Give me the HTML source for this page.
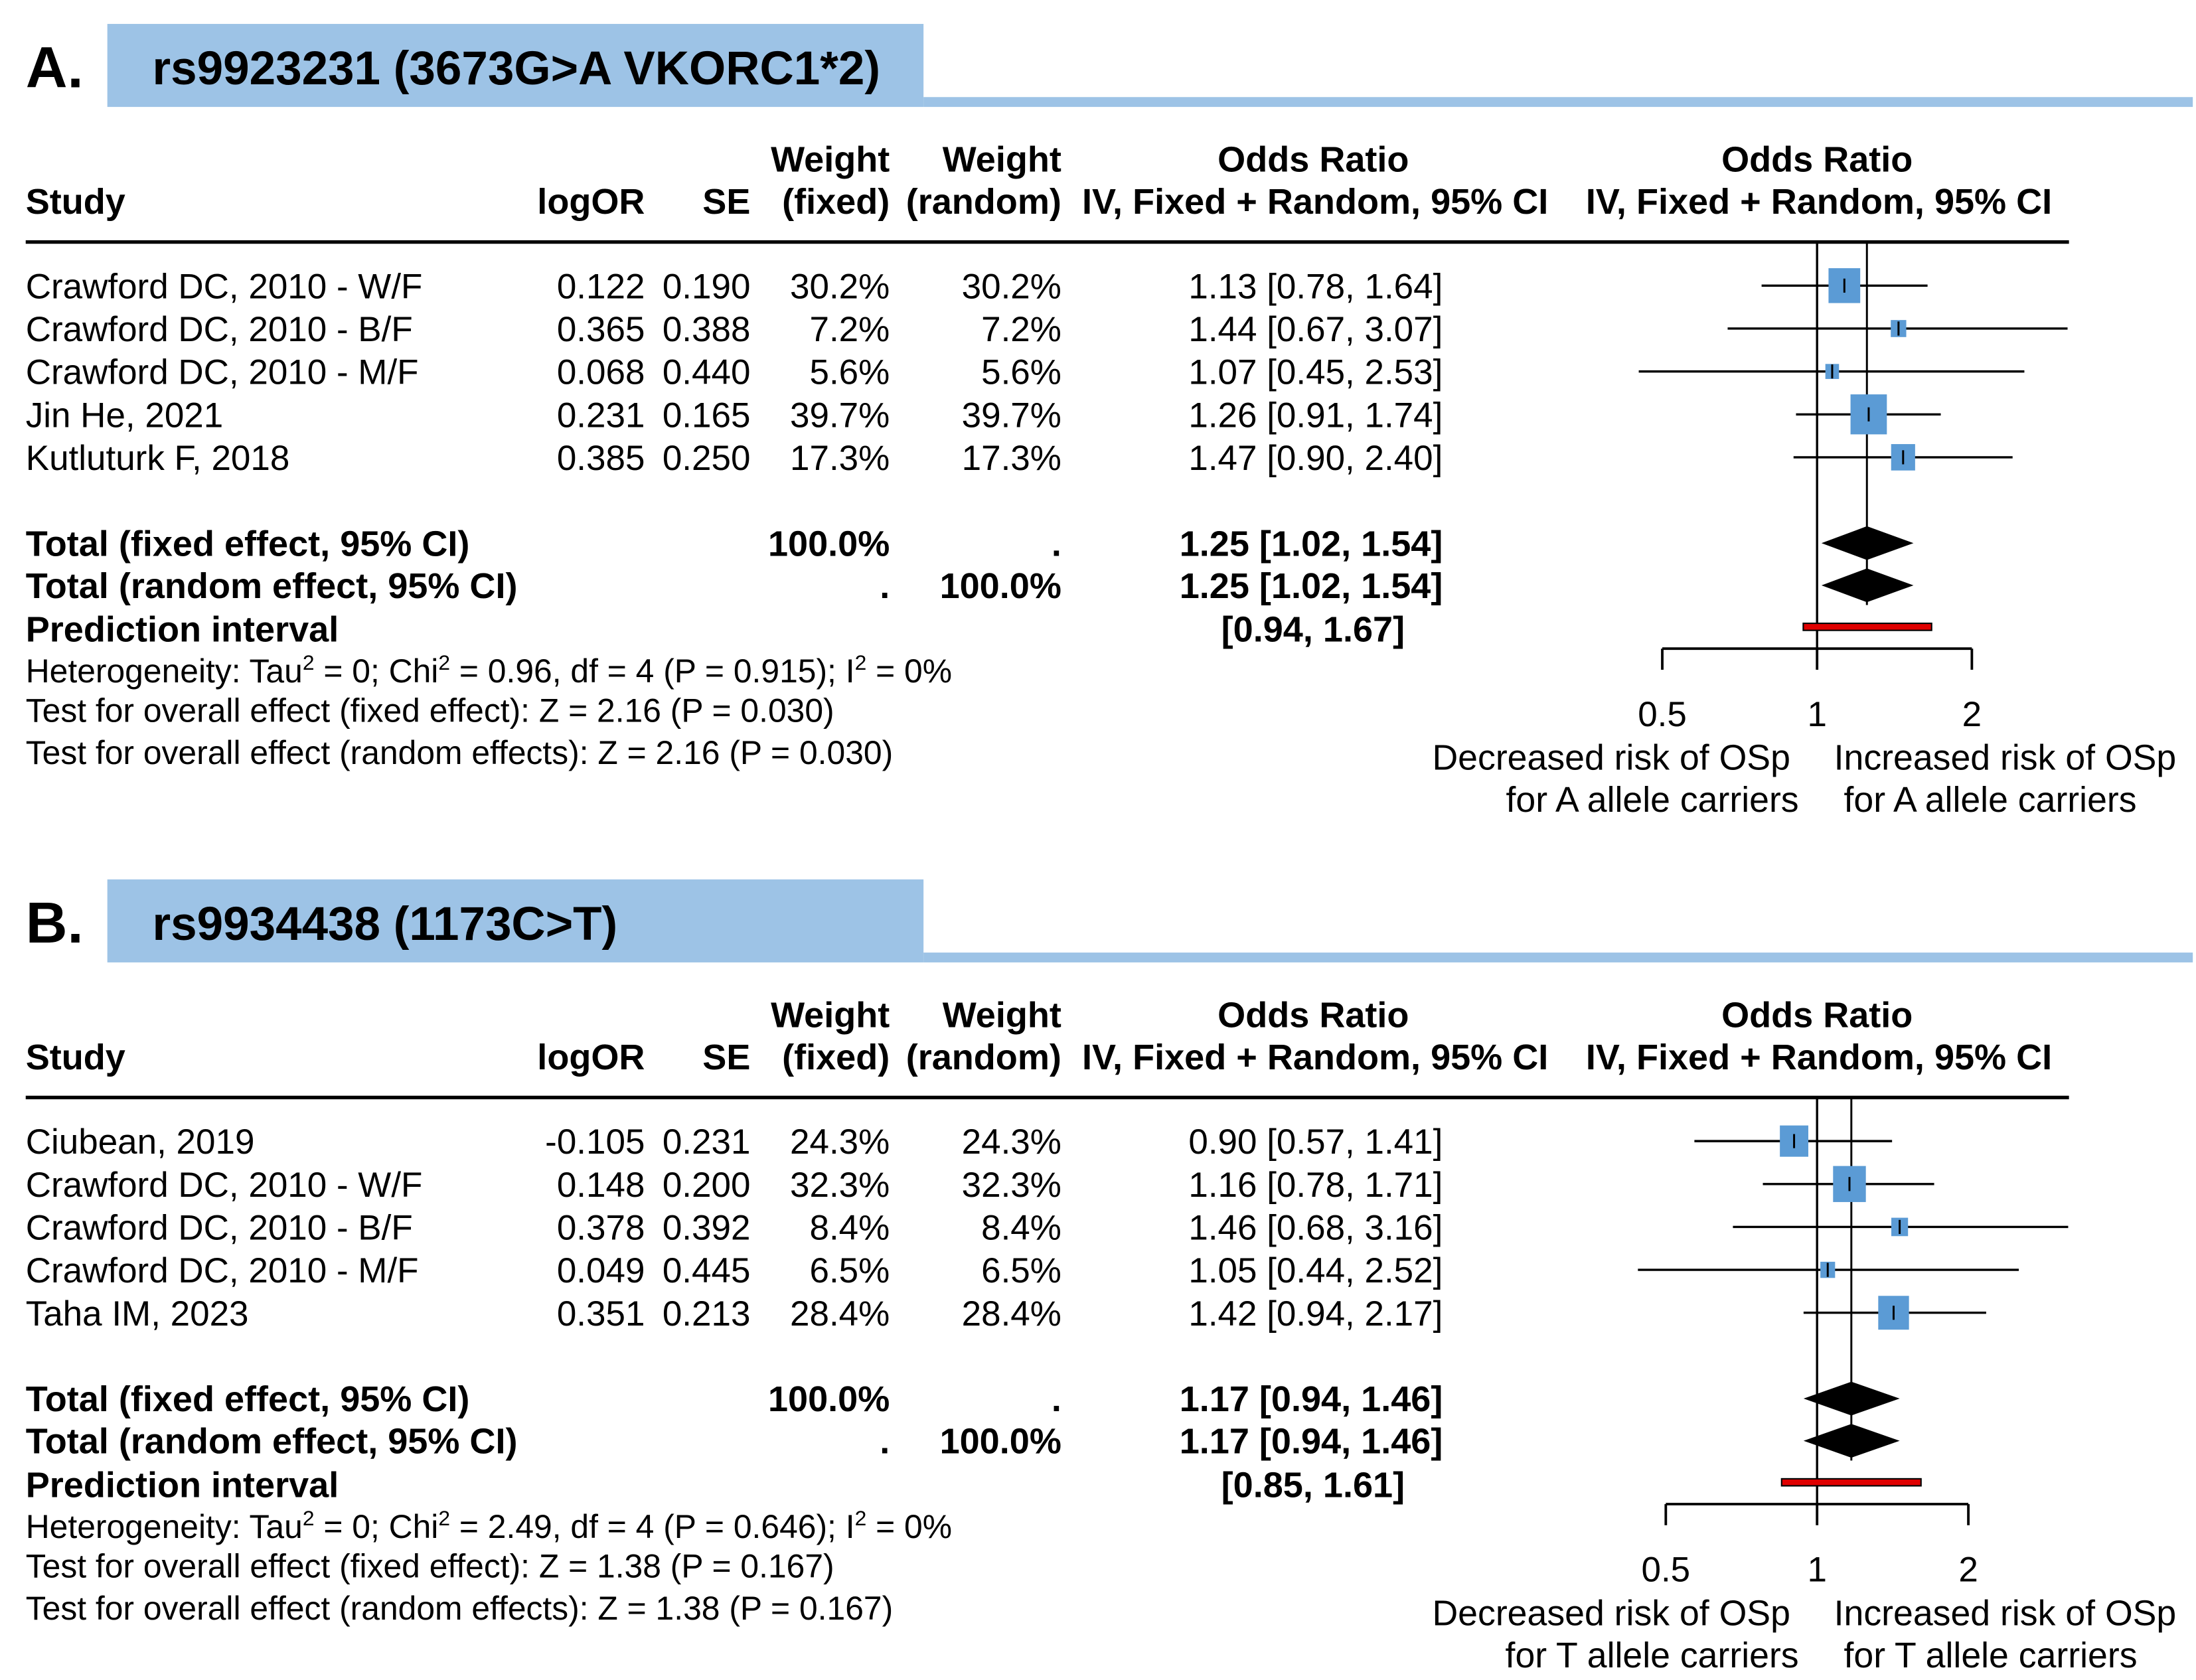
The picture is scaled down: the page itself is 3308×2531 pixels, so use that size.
<!DOCTYPE html>
<html><head><meta charset="utf-8"><style>
html,body{margin:0;padding:0;background:#fff;}
svg{display:block;}
text{font-family:"Liberation Sans",Arial,sans-serif;fill:#000;}
.b{font-weight:bold;}
</style></head><body>
<svg id="fig" width="3308" height="2531" viewBox="0 0 1560 1194" xmlns="http://www.w3.org/2000/svg"></svg>
<script>
// ---- Panel A data ----
const studiesA = ["Crawford DC, 2010 - W/F","Crawford DC, 2010 - B/F","Crawford DC, 2010 - M/F","Jin He, 2021","Kutluturk F, 2018"];
const logOrA = ["0.122","0.365","0.068","0.231","0.385"];
const seA = ["0.190","0.388","0.440","0.165","0.250"];
const weightA = [30.2,7.2,5.6,39.7,17.3];
const orA = [1.13,1.44,1.07,1.26,1.47];
const lowA = [0.78,0.67,0.45,0.91,0.90];
const highA = [1.64,3.07,2.53,1.74,2.40];
const pooledA = [1.25,1.02,1.54];
const predA = [0.94,1.67];
const statsA = ["0.96","4","0.915","2.16","0.030"];
// ---- Panel B data ----
const studiesB = ["Ciubean, 2019","Crawford DC, 2010 - W/F","Crawford DC, 2010 - B/F","Crawford DC, 2010 - M/F","Taha IM, 2023"];
const logOrB = ["-0.105","0.148","0.378","0.049","0.351"];
const seB = ["0.231","0.200","0.392","0.445","0.213"];
const weightB = [24.3,32.3,8.4,6.5,28.4];
const orB = [0.90,1.16,1.46,1.05,1.42];
const lowB = [0.57,0.78,0.68,0.44,0.94];
const highB = [1.41,1.71,3.16,2.52,2.17];
const pooledB = [1.17,0.94,1.46];
const predB = [0.85,1.61];
const statsB = ["2.49","4","0.646","1.38","0.167"];
const tickVals = [0.5,1,2];

const NS="http://www.w3.org/2000/svg";
const svg=document.getElementById('fig');
function el(tag,attrs,parent,txt){const e=document.createElementNS(NS,tag);for(const k in attrs)e.setAttribute(k,attrs[k]);if(txt!==undefined)e.textContent=txt;(parent||svg).appendChild(e);return e;}
function f2(v){return v.toFixed(2);}

function panel(oy,letter,title,studies,lo,se,w,or,low,high,pooled,pred,stats,scale,allele,key){
  const g=el('g',{transform:'translate(0,'+oy+')'});
  
  
  const x=v=>1291+scale*Math.log2(v);
  let t;
  t=el('text',{x:18,y:62,'font-size':41,class:'b'},g,letter);
  
  let r=el('rect',{x:656,y:69,width:902,height:7,fill:'#9DC3E6'},g);
  
  r=el('rect',{x:76,y:17,width:580,height:59,fill:'#9DC3E6'},g);
  
  t=el('text',{x:108,y:60,'font-size':33.5,class:'b'},g,title);
  
  const H=[["Study",18,152,'start'],["logOR",458,152,'end'],["SE",533,152,'end'],["Weight",632,122,'end'],["(fixed)",632,152,'end'],["Weight",754,122,'end'],["(random)",754,152,'end'],["Odds Ratio",933,122,'middle'],["IV, Fixed + Random, 95% CI",1100,152,'end'],["Odds Ratio",1291,122,'middle'],["IV, Fixed + Random, 95% CI",1458,152,'end']];
  H.forEach(h=>{const e=el('text',{x:h[1],y:h[2],'font-size':25.5,class:'b','text-anchor':h[3]},g,h[0]);
    });
  let l=el('line',{x1:18,x2:1470,y1:172,y2:172,stroke:'#000','stroke-width':2.5},g);
  
  l=el('line',{x1:x(1),x2:x(1),y1:172,y2:461,stroke:'#000','stroke-width':1.6},g);
  
  l=el('line',{x1:x(pooled[0]),x2:x(pooled[0]),y1:172,y2:430,stroke:'#000','stroke-width':1.4},g);
  
  studies.forEach((s,i)=>{
    const y=203+i*30.5, by=y+9;
    const cells=[[s,18,'start'],[lo[i],458,'end'],[se[i],533,'end'],[w[i].toFixed(1)+'%',632,'end'],[w[i].toFixed(1)+'%',754,'end'],[f2(or[i])+' ['+f2(low[i])+', '+f2(high[i])+']',1025,'end']];
    cells.forEach(c=>{const e=el('text',{x:c[1],y:by,'font-size':25,'text-anchor':c[2]},g,c[0]);
      });
    const ci=el('line',{x1:x(low[i]),x2:x(high[i]),y1:y,y2:y,stroke:'#000','stroke-width':1.6},g);
    
    const sz=4.1*Math.sqrt(w[i]);
    const sq=el('rect',{x:x(or[i])-sz/2,y:y-sz/2*1.1,width:sz,height:sz*1.1,fill:'#5B9BD5'},g);
    
    const tk=el('line',{x1:x(or[i]),x2:x(or[i]),y1:y-5,y2:y+5,stroke:'#000','stroke-width':1.4},g);
    
  });
  const tot=f2(pooled[0])+' ['+f2(pooled[1])+', '+f2(pooled[2])+']';
  const rows=[["Total (fixed effect, 95% CI)",386,"100.0%","."],["Total (random effect, 95% CI)",416,".","100.0%"]];
  rows.forEach(rw=>{
    const by=rw[1]+9;
    [[rw[0],18,'start'],[rw[2],632,'end'],[rw[3],754,'end'],[tot,1025,'end']].forEach(c=>{
      const e=el('text',{x:c[1],y:by,'font-size':25.5,class:'b','text-anchor':c[2]},g,c[0]);
      });
    const d=el('polygon',{points:[x(pooled[1])+','+rw[1],x(pooled[0])+','+(rw[1]-12),x(pooled[2])+','+rw[1],x(pooled[0])+','+(rw[1]+12)].join(' '),fill:'#000'},g);
    
  });
  t=el('text',{x:18,y:456,'font-size':25.5,class:'b'},g,"Prediction interval");
  
  t=el('text',{x:998,y:456,'font-size':25.5,class:'b','text-anchor':'end'},g,'['+f2(pred[0])+', '+f2(pred[1])+']');
  
  r=el('rect',{x:x(pred[0]),y:443,width:x(pred[1])-x(pred[0]),height:5,fill:'#E00000',stroke:'#000','stroke-width':1},g);
  
  const ht=el('text',{x:18,y:485,'font-size':23.5},g);
  
  ht.innerHTML='Heterogeneity: Tau<tspan dy="-9" font-size="15">2</tspan><tspan dy="9"> = 0; Chi</tspan><tspan dy="-9" font-size="15">2</tspan><tspan dy="9"> = '+stats[0]+', df = '+stats[1]+' (P = '+stats[2]+'); I</tspan><tspan dy="-9" font-size="15">2</tspan><tspan dy="9"> = 0%</tspan>';
  t=el('text',{x:18,y:513,'font-size':23.5},g,'Test for overall effect (fixed effect): Z = '+stats[3]+' (P = '+stats[4]+')');
  
  t=el('text',{x:18,y:543,'font-size':23.5},g,'Test for overall effect (random effects): Z = '+stats[3]+' (P = '+stats[4]+')');
  
  l=el('line',{x1:x(tickVals[0]),x2:x(tickVals[tickVals.length-1]),y1:461,y2:461,stroke:'#000','stroke-width':1.8},g);
  
  tickVals.forEach(v=>{
    const tk=el('line',{x1:x(v),x2:x(v),y1:461,y2:476,stroke:'#000','stroke-width':1.8},g);
    
    const tl=el('text',{x:x(v),y:516,'font-size':25,'text-anchor':'middle'},g,String(v));
    
  });
  [["Decreased risk of OSp",1272,547,'end'],["for "+allele+" allele carriers",1278,577,'end'],["Increased risk of OSp",1303,547,'start'],["for "+allele+" allele carriers",1310,577,'start']].forEach(c=>{
    const e=el('text',{x:c[1],y:c[2],'font-size':25.3,'text-anchor':c[3]},g,c[0]);
    });
}
panel(0,"A.","rs9923231 (3673G>A VKORC1*2)",studiesA,logOrA,seA,weightA,orA,lowA,highA,pooledA,predA,statsA,110,"A","a");
panel(608,"B.","rs9934438 (1173C>T)",studiesB,logOrB,seB,weightB,orB,lowB,highB,pooledB,predB,statsB,107.5,"T","b");
</script>
</body></html>
